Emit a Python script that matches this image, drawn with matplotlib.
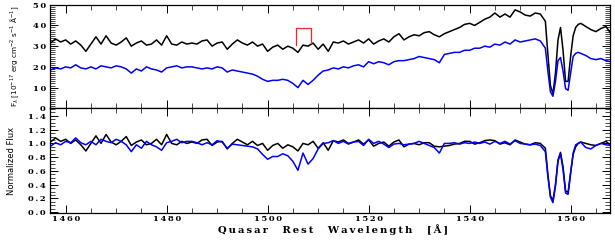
"""
Quasar spectrum around C IV: observed flux (top) and normalized flux (bottom)
for two epochs (black, blue). Saves out.png.
"""

import numpy as np
import matplotlib
matplotlib.use("Agg")
import matplotlib.pyplot as plt
from matplotlib.ticker import MultipleLocator, FuncFormatter

# ── Data ──────────────────────────────────────────────────────────────────────

# wavelength grid: 1 A steps, 0.5 A through the C IV doublet
wave = np.concatenate([
    np.arange(1457, 1555, 1.0),
    np.arange(1555, 1562, 0.5),
    np.arange(1562, 1569, 1.0),
])

flux_black = [
    31.5, 33.5, 32, 33, 31, 32.5, 30.5, 27.5, 31, 34.5,          # 1457-1466
    31, 35, 31.5, 30.5, 32, 34, 30, 31.5, 32.5, 30.5,            # 1467-1476
    31, 33, 30.5, 35, 31, 30.5, 32, 31, 31.5, 31,                # 1477-1486
    32.5, 33, 30, 31.5, 32, 28.5, 31, 33, 31.5, 30.5,            # 1487-1496
    32, 30, 31, 27.5, 29.5, 30.5, 28.5, 30, 29, 27,              # 1497-1506
    30.5, 30, 31.5, 28.5, 31, 27.5, 32, 31.5, 32.5, 31,          # 1507-1516
    32, 33, 31.5, 33.5, 31, 32.5, 33.5, 32, 34.5, 36,            # 1517-1526
    33, 34.5, 35.5, 35, 36.5, 37, 35.5, 34.5, 36, 37,            # 1527-1536
    38, 39, 40.5, 41, 40, 41.5, 43, 44, 46, 44,                  # 1537-1546
    45.5, 44, 47.5, 46.5, 45, 44.5, 46, 45.5,                    # 1547-1554
    42, 26, 11, 7, 17, 33, 39, 28, 13, 13, 25, 35, 39, 40.5,     # 1555-1561.5
    41, 39.5, 38, 37, 38.5, 39.5, 36,                            # 1562-1568
]

flux_blue = [
    18.5, 19.5, 19, 20, 19.5, 21, 19.5, 19, 20, 19,
    20.5, 20, 19.5, 20.5, 20, 19, 17, 19, 18, 20,
    19, 18.5, 17.5, 19.5, 20, 20.5, 19.5, 20, 20, 19.5,
    19, 19.5, 19, 20, 19.5, 17.5, 18.5, 18, 17.5, 17,
    16.5, 15.5, 14, 13, 13.5, 13.5, 14, 13.5, 12, 10,
    13.5, 11.5, 13.5, 16, 18, 18.5, 19.5, 19, 20, 19.5,
    20.5, 21, 20, 22.5, 21.5, 22.5, 22, 21, 22.5, 23,
    23, 23.5, 24, 25, 24.5, 24, 23.5, 22, 26, 26.5,
    27, 27, 28, 28, 29, 29, 30, 29.5, 31, 30.5,
    32, 31, 33, 32, 32.5, 33, 33.5, 32.5,
    29, 18, 8, 5.8, 13, 23, 24.5, 18, 9.5, 8.7, 17, 25, 26.5, 27,
    26.5, 25.5, 24, 23.5, 24, 23, 22.5,
]

norm_black = [
    1.02, 1.08, 1.03, 1.06, 1.00, 1.05, 0.98, 0.89, 1.00, 1.11,
    1.00, 1.13, 1.02, 0.98, 1.03, 1.10, 0.97, 1.02, 1.05, 0.98,
    1.00, 1.06, 0.98, 1.13, 1.00, 0.98, 1.03, 1.00, 1.02, 1.00,
    1.05, 1.06, 0.97, 1.02, 1.03, 0.92, 1.00, 1.06, 1.02, 0.98,
    1.03, 0.97, 1.00, 0.90, 0.97, 1.00, 0.93, 0.98, 0.95, 0.89,
    1.00, 0.98, 1.03, 0.93, 1.01, 0.90, 1.04, 1.02, 1.05, 1.00,
    1.02, 1.05, 0.99, 1.05, 0.96, 1.00, 1.02, 0.96, 1.02, 1.05,
    0.95, 0.99, 1.00, 0.98, 1.01, 1.01, 0.96, 0.95, 0.96, 0.97,
    0.99, 1.00, 1.03, 1.03, 0.99, 1.01, 1.04, 1.05, 1.04, 0.99,
    1.01, 0.98, 1.05, 1.02, 0.99, 0.98, 1.01, 1.00,
    0.93, 0.55, 0.24, 0.17, 0.40, 0.76, 0.87, 0.66, 0.31, 0.29, 0.58, 0.84, 0.95, 1.00,
    1.02, 1.00, 0.98, 0.97, 1.00, 1.03, 0.97,
]

norm_blue = [
    0.96, 1.01, 0.98, 1.03, 1.01, 1.08, 1.01, 0.98, 1.03, 0.98,
    1.06, 1.03, 1.01, 1.06, 1.03, 0.98, 0.88, 0.98, 0.93, 1.03,
    0.98, 0.95, 0.90, 1.01, 1.03, 1.06, 1.01, 1.03, 1.03, 1.01,
    0.98, 1.01, 0.98, 1.04, 1.02, 0.93, 0.99, 0.98, 0.97, 0.96,
    0.95, 0.92, 0.84, 0.77, 0.81, 0.81, 0.85, 0.82, 0.74, 0.61,
    0.86, 0.70, 0.78, 0.92, 1.00, 1.01, 1.04, 1.00, 1.03, 0.99,
    1.02, 1.03, 0.97, 1.06, 1.00, 1.03, 0.99, 0.94, 0.99, 1.00,
    0.98, 0.99, 1.00, 1.03, 1.00, 0.97, 0.94, 0.86, 1.00, 1.00,
    1.01, 0.99, 1.01, 1.00, 1.02, 1.00, 1.02, 0.99, 1.03, 1.00,
    1.03, 0.99, 1.04, 1.00, 0.99, 0.98, 0.99, 0.97,
    0.88, 0.52, 0.22, 0.14, 0.38, 0.74, 0.85, 0.62, 0.28, 0.26, 0.56, 0.86, 0.98, 1.00,
    1.02, 0.94, 0.92, 0.97, 1.00, 0.98, 0.97,
]

# red bracket marking the feature near 1507 A
mark_wave = [1505.7, 1505.7, 1508.5, 1508.5]
mark_flux = [30.6, 38.8, 38.8, 31.6]

XLABEL = "Quasar Rest Wavelength [Å]"

# ── Figure ────────────────────────────────────────────────────────────────────

W, H = 615, 244
fig = plt.figure(figsize=(W / 100, H / 100), dpi=100)
fig.patch.set_facecolor("white")

L, R = 50 / W, 610 / W
ax1 = fig.add_axes([L, 1 - 108.3 / H, R - L, (108.3 - 4.7) / H])
ax2 = fig.add_axes([L, 1 - 213.3 / H, R - L, (213.3 - 108.3) / H], sharex=ax1)

THIN = "\u2009"


def spaced(fmt):
    return FuncFormatter(lambda v, p: THIN.join(fmt.format(v)))


ax1.plot(wave, flux_black, color="black", lw=1.1)
ax1.plot(wave, flux_blue, color="#0000ff", lw=1.1)
ax1.plot(mark_wave, mark_flux, color="#ff2020", lw=0.9)

ax2.plot(wave, norm_black, color="black", lw=1.1)
ax2.plot(wave, norm_blue, color="#0000ff", lw=1.1)

ax1.set_xlim(1456.9, 1567.8)
ax1.set_ylim(0, 50)
ax2.set_ylim(-0.015, 1.51)

ax1.yaxis.set_major_locator(MultipleLocator(10))
ax1.yaxis.set_minor_locator(MultipleLocator(1))
ax2.yaxis.set_major_locator(MultipleLocator(0.2))
ax2.yaxis.set_minor_locator(MultipleLocator(0.05))
ax2.xaxis.set_major_locator(MultipleLocator(20))
ax2.xaxis.set_minor_locator(MultipleLocator(5))

ax1.yaxis.set_major_formatter(spaced("{:.0f}"))
ax2.yaxis.set_major_formatter(spaced("{:.1f}"))
ax2.xaxis.set_major_formatter(spaced("{:.0f}"))

for ax in (ax1, ax2):
    ax.tick_params(which="both", direction="in", top=True, right=True,
                   width=0.7, colors="black")
    ax.tick_params(which="major", length=6)
    ax.tick_params(which="minor", length=3.5, width=0.5)
    ax.tick_params(axis="x", pad=1.5)
    ax.tick_params(axis="y", pad=3)
    for s in ax.spines.values():
        s.set_linewidth(0.9)
    for lab in ax.get_xticklabels() + ax.get_yticklabels():
        lab.set_family("DejaVu Serif")
        lab.set_weight("bold")
        lab.set_fontsize(6)
ax1.tick_params(labelbottom=False)

# axis labels
fig.text(218 / W, 1 - 229.5 / H, THIN.join(XLABEL).replace(" ", "   "),
         ha="left", va="center", fontsize=7.2, fontweight="bold",
         family="DejaVu Serif")
fig.text(15 / W, 1 - 56.5 / H,
         r"F$_\lambda$ [10$^{-17}$ erg cm$^{-2}$ s$^{-1}$ Å$^{-1}$]",
         rotation=90, ha="center", va="center", fontsize=5.2,
         family=["Liberation Sans Narrow", "DejaVu Sans"])
fig.text(12 / W, 1 - 161 / H, "Normalized Flux",
         rotation=90, ha="center", va="center", fontsize=6,
         family=["Liberation Sans Narrow", "DejaVu Sans"])

fig.savefig("out.png", dpi=100, facecolor="white")
plt.close(fig)
